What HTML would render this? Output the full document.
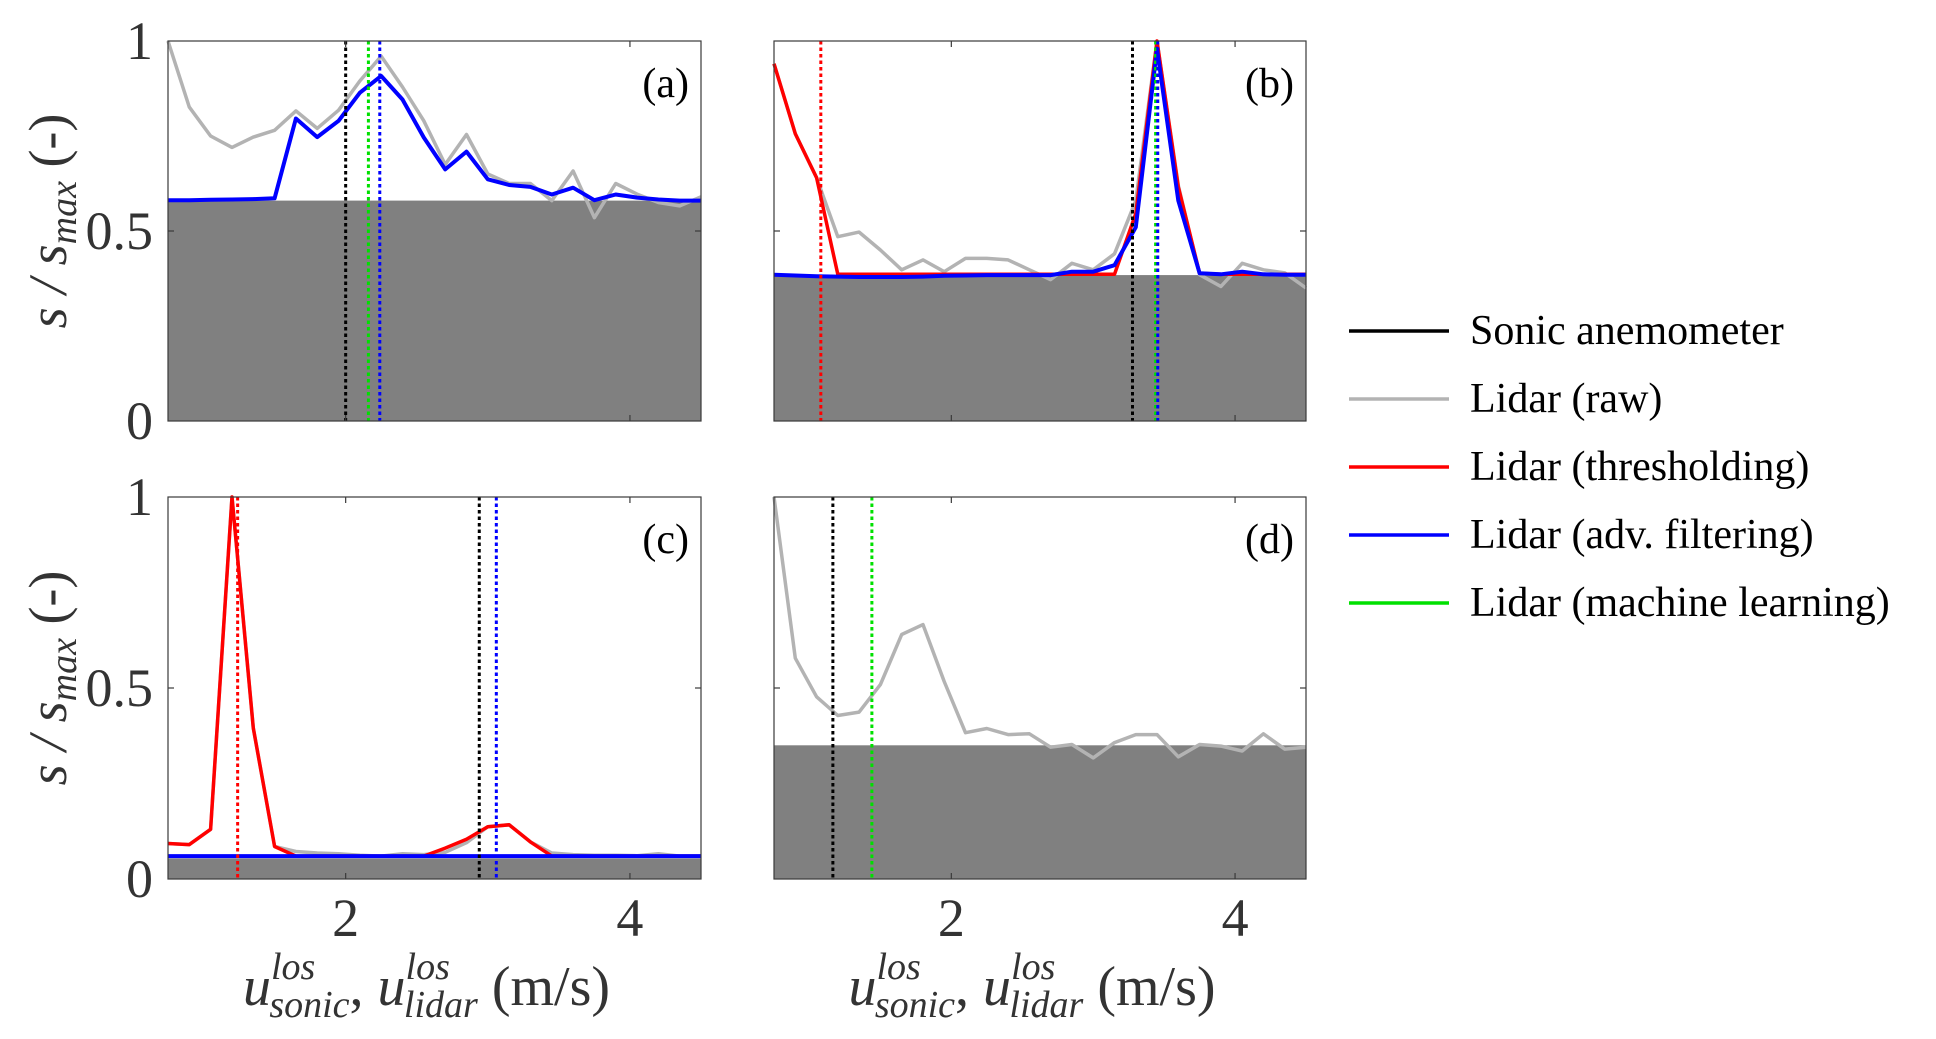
<!DOCTYPE html>
<html><head><meta charset="utf-8"><style>
html,body{margin:0;padding:0;background:#fff;}
svg{display:block;}
svg text{font-family:"Liberation Serif","DejaVu Serif",serif;}
</style></head><body>
<svg id="fig" width="1936" height="1039" viewBox="0 0 1936 1039" font-family="Liberation Serif, DejaVu Serif, serif"></svg>
<script>
const xCount = 26;
const xStart = 0.75;
const xStep = 0.15;
// panel (a)
const aThreshold = 0.58;
const aRaw = [1.0,0.826,0.75,0.72,0.747,0.765,0.816,0.77,0.818,0.895,0.96,0.879,0.79,0.675,0.754,0.65,0.625,0.625,0.58,0.658,0.535,0.625,0.597,0.575,0.566,0.59];
const aAdv = [0.581,0.581,0.582,0.583,0.584,0.586,0.796,0.747,0.79,0.864,0.908,0.846,0.746,0.662,0.709,0.636,0.621,0.616,0.596,0.614,0.581,0.596,0.588,0.583,0.58,0.58];
const aVlines = {sonic:2.0, ml:2.16, adv:2.24};
// panel (b)
const bThreshold = 0.384;
const bRaw = [0.94,0.756,0.64,0.485,0.497,0.45,0.398,0.424,0.393,0.428,0.428,0.424,0.398,0.372,0.415,0.398,0.44,0.58,1.0,0.62,0.385,0.354,0.415,0.398,0.39,0.35];
const bThr = [0.94,0.756,0.64,0.386,0.386,0.386,0.386,0.386,0.386,0.386,0.386,0.386,0.386,0.386,0.386,0.386,0.386,0.546,1.0,0.616,0.389,0.386,0.386,0.386,0.386,0.386];
const bAdv = [0.385,0.383,0.381,0.38,0.379,0.379,0.379,0.38,0.382,0.383,0.384,0.384,0.384,0.384,0.393,0.393,0.41,0.51,0.98,0.58,0.389,0.386,0.393,0.386,0.385,0.385];
const bVlines = {thr:1.08, sonic:3.277, ml:3.44, adv:3.455};
// panel (c)
const cThreshold = 0.054;
const cRaw = [0.093,0.09,0.13,1.0,0.395,0.085,0.072,0.068,0.066,0.062,0.06,0.066,0.064,0.07,0.095,0.137,0.142,0.097,0.068,0.064,0.062,0.062,0.061,0.066,0.06,0.06];
const cThr = [0.093,0.09,0.13,1.0,0.395,0.085,0.06,0.06,0.06,0.06,0.06,0.06,0.06,0.081,0.104,0.137,0.142,0.097,0.06,0.06,0.06,0.06,0.06,0.06,0.06,0.06];
const cAdv = [0.06,0.06,0.06,0.06,0.06,0.06,0.06,0.06,0.06,0.06,0.06,0.06,0.06,0.06,0.06,0.06,0.06,0.06,0.06,0.06,0.06,0.06,0.06,0.06,0.06,0.06];
const cVlines = {thr:1.24, sonic:2.94, adv:3.06};
// panel (d)
const dThreshold = 0.35;
const dRaw = [1.0,0.578,0.477,0.428,0.437,0.509,0.64,0.666,0.517,0.383,0.394,0.378,0.38,0.345,0.352,0.317,0.357,0.378,0.378,0.32,0.352,0.348,0.335,0.38,0.34,0.345];
const dVlines = {sonic:1.165, ml:1.44};
const xTicks = [2,4];
const yTicks = [0,0.5,1];
const yTickLabels = ["0","0.5","1"];
const legendLabels = ["Sonic anemometer","Lidar (raw)","Lidar (thresholding)","Lidar (adv. filtering)","Lidar (machine learning)"];

const NS = "http://www.w3.org/2000/svg";
const svg = document.getElementById('fig');
const FONT = "Liberation Serif, DejaVu Serif, serif";
const colors = {sonic:"#000000", raw:"#b3b3b3", thr:"#ff0000", adv:"#0000ff", ml:"#00e000"};
function mk(tag, attrs, parent){const e=document.createElementNS(NS,tag);for(const k in attrs)e.setAttribute(k,attrs[k]);if(tag==='text')e.setAttribute('font-family',FONT);(parent||svg).appendChild(e);return e;}

const panels = [
 {id:"a", x0:168, y0:41, w:533, h:380, thr:aThreshold, series:[["raw",aRaw],["adv",aAdv]], vl:aVlines},
 {id:"b", x0:774, y0:41, w:532, h:380, thr:bThreshold, series:[["raw",bRaw],["thr",bThr],["adv",bAdv]], vl:bVlines},
 {id:"c", x0:168, y0:497, w:533, h:382, thr:cThreshold, series:[["raw",cRaw],["thr",cThr],["adv",cAdv]], vl:cVlines},
 {id:"d", x0:774, y0:497, w:532, h:382, thr:dThreshold, series:[["raw",dRaw]], vl:dVlines}
];
const xMin=0.75, xMax=4.5;
panels.forEach(p=>{
  const sx=v=>p.x0+(v-xMin)/(xMax-xMin)*p.w;
  const sy=v=>p.y0+p.h-v*p.h;
  const g=mk('g',{});
  
  
  const f=mk('rect',{x:p.x0,y:sy(p.thr),width:p.w,height:p.h-(sy(p.thr)-p.y0),fill:"#808080"},g);
  
  
  p.series.forEach(([k,arr])=>{
    const pts=arr.map((v,i)=>sx(xStart+i*xStep).toFixed(1)+","+sy(v).toFixed(1)).join(" ");
    const pl=mk('polyline',{points:pts,fill:"none",stroke:colors[k],"stroke-width":k==="adv"?4:3.5,"stroke-linejoin":"round"},g);
    
    
  });
  for(const k in p.vl){
    const l=mk('line',{x1:sx(p.vl[k]),x2:sx(p.vl[k]),y1:p.y0,y2:p.y0+p.h,stroke:colors[k],"stroke-width":3,"stroke-dasharray":"3.5,3"},g);
    
    
  }
  const fr=mk('rect',{x:p.x0,y:p.y0,width:p.w,height:p.h,fill:"none",stroke:"#3a3a3a","stroke-width":1.2},g);
  
  
  xTicks.forEach(t=>{
    mk('line',{x1:sx(t),x2:sx(t),y1:p.y0,y2:p.y0+6,stroke:"#3a3a3a","stroke-width":1.2},g);
    mk('line',{x1:sx(t),x2:sx(t),y1:p.y0+p.h,y2:p.y0+p.h-6,stroke:"#3a3a3a","stroke-width":1.2},g);
  });
  mk('line',{x1:p.x0,x2:p.x0+6,y1:sy(0.5),y2:sy(0.5),stroke:"#3a3a3a","stroke-width":1.2},g);
  mk('line',{x1:p.x0+p.w,x2:p.x0+p.w-6,y1:sy(0.5),y2:sy(0.5),stroke:"#3a3a3a","stroke-width":1.2},g);
  const lab=mk('text',{x:p.x0+p.w-12,y:p.y0+56,"text-anchor":"end","font-size":42,fill:"#000"},g);
  lab.textContent="("+p.id+")";
  
  
  if(p.id==="a"||p.id==="c"){
    yTicks.forEach((t,i)=>{
      const tl=mk('text',{x:153,y:sy(t)+18,"text-anchor":"end","font-size":54,fill:"#333"},g);
      tl.textContent=yTickLabels[i];
      
      
    });
    const yt=mk('text',{transform:"translate(66,"+(p.y0+p.h/2-10)+") rotate(-90)","text-anchor":"middle","font-size":54,fill:"#333","font-style":"italic"},g);
    yt.innerHTML='s / s<tspan font-size="38" dy="10">max</tspan><tspan dy="-10" font-style="normal">  (-)</tspan>';
    
    
  }
  if(p.id==="c"||p.id==="d"){
    xTicks.forEach(t=>{
      const tl=mk('text',{x:sx(t),y:936,"text-anchor":"middle","font-size":54,fill:"#333"},g);
      tl.textContent=t;
      
      
    });
    const cx=p.x0+p.w/2-8;
    const xt=mk('text',{x:cx,y:1005,"text-anchor":"middle","font-size":56,fill:"#333"},g);
    xt.innerHTML='<tspan font-style="italic">u</tspan><tspan font-style="italic" font-size="38" dy="-26">los</tspan><tspan font-style="italic" font-size="38" dx="-46" dy="38">sonic</tspan><tspan dy="-12">, </tspan><tspan font-style="italic">u</tspan><tspan font-style="italic" font-size="38" dy="-26">los</tspan><tspan font-style="italic" font-size="38" dx="-46" dy="38">lidar</tspan><tspan dy="-12">  (m/s)</tspan>';
    
    
  }
});
const legKeys=["sonic","raw","thr","adv","ml"];
const lg=mk('g',{});


legendLabels.forEach((t,i)=>{
  const y=331+i*68;
  mk('line',{x1:1349,x2:1449,y1:y,y2:y,stroke:colors[legKeys[i]],"stroke-width":3.5},lg);
  const tx=mk('text',{x:1470,y:y+13,"font-size":42,fill:"#000"},lg);
  tx.textContent=t;
  
  
});
</script>
</body></html>
